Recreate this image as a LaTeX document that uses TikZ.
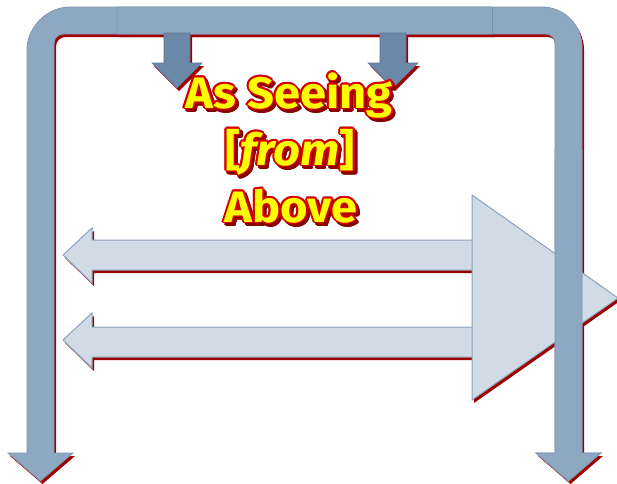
\documentclass[tikz,border=0pt]{standalone}
\usepackage{fontspec}
\setmainfont{Fira Sans}
\newfontfamily\titlefont{Fira Sans}[FakeStretch=1.07]
\usetikzlibrary{calc}
\definecolor{barblue}{HTML}{8FA8C2}
\definecolor{barline}{HTML}{7C95B1}
\definecolor{darkblue}{HTML}{6C88A9}
\definecolor{lightblue}{HTML}{D1DBE6}
\definecolor{lightline}{HTML}{8AA1BC}
\definecolor{shadowred}{HTML}{9E0000}
\definecolor{txtred}{HTML}{D40000}
\definecolor{txtshadow}{HTML}{8A0000}
\definecolor{txtyellow}{HTML}{FFFF00}
\tikzset{
  txt/.style={font=\titlefont\fontsize{44}{44}\selectfont\bfseries, anchor=base, inner sep=0pt},
  bentarrow/.style={fill=barblue, draw=barline, line width=0.8pt, line join=miter},
  smallarrow/.style={fill=darkblue, draw=darkblue!85!black, line width=0.6pt},
  lightarrow/.style={fill=lightblue, draw=lightline, line width=1pt},
  shadowshape/.style={fill=shadowred, draw=none, shift={(2,3)}}
}
\newcommand\glowtext[3]{%
  \foreach \a in {0,30,...,330}{\node[txt,text=txtshadow] at ($(#2)+(\a:1.8)+(2.5,3)$) {#3};}
  \foreach \a in {0,30,...,330}{\node[txt,text=txtred] at ($(#2)+(\a:1.8)$) {#3};}
  \node[txt,text=txtyellow] (#1) at (#2) {#3};
}
\begin{document}
\begin{tikzpicture}[x=1pt,y=-1pt]
\useasboundingbox[fill=white] (0,0) rectangle (617,483);
% shape definitions
\def\leftbent{(492,7) -- (70,7) .. controls (47,7) and (27,27) .. (27,50) -- (27,453) -- (8,453) -- (40.5,481) -- (73,453) -- (54,453) -- (54,44) .. controls (54,38) and (58,34) .. (64,34) -- (492,34) -- cycle}
\def\rightbent{(117,7) -- (542,7) .. controls (564,7) and (582,25) .. (582,47) -- (582,453) -- (601,453) -- (568.5,481) -- (536,453) -- (555,453) -- (555,44) .. controls (555,38) and (551,34) .. (545,34) -- (117,34) -- cycle}
\def\smallA{(164,33) -- (190,33) -- (190,63) -- (202,63) -- (177,88) -- (152,63) -- (164,63) -- cycle}
\def\smallB{(380,33) -- (406,33) -- (406,63) -- (418,63) -- (393,88) -- (368,63) -- (380,63) -- cycle}
\def\arrowA{(480,240) -- (92,240) -- (92,228) -- (63,255) -- (92,283) -- (92,270) -- (480,270) -- cycle}
\def\arrowB{(480,327) -- (92,327) -- (92,313) -- (63,340) -- (92,368) -- (92,357) -- (480,357) -- cycle}
\def\bigtri{(472,195) -- (618,298) -- (472,400) -- cycle}
% shadows
\fill[shadowshape] \leftbent;
\fill[shadowshape] \rightbent;
\fill[shadowshape] \smallA;
\fill[shadowshape] \smallB;
\fill[shadowshape] \arrowA;
\fill[shadowshape] \arrowB;
\fill[shadowshape] \bigtri;
% shapes
\filldraw[bentarrow] \leftbent;
\filldraw[bentarrow] \rightbent;
\draw[barline, line width=0.8pt] (492,7) -- (492,34);
\filldraw[smallarrow] \smallA;
\filldraw[smallarrow] \smallB;
\filldraw[lightarrow] \arrowA;
\filldraw[lightarrow] \arrowB;
\filldraw[lightarrow] \bigtri;
% redraw right shaft on top of triangle
\filldraw[bentarrow] (555,150) -- (582,150) -- (582,453) -- (601,453) -- (568.5,481) -- (536,453) -- (555,453) -- cycle;
\fill[barblue] (555.4,149) rectangle (581.6,160);
% text
\glowtext{t1}{289,108}{As Seeing}
\glowtext{t2}{290,165}{[\textit{from}]}
\glowtext{t3}{291,222}{Above}
\end{tikzpicture}
\end{document}
